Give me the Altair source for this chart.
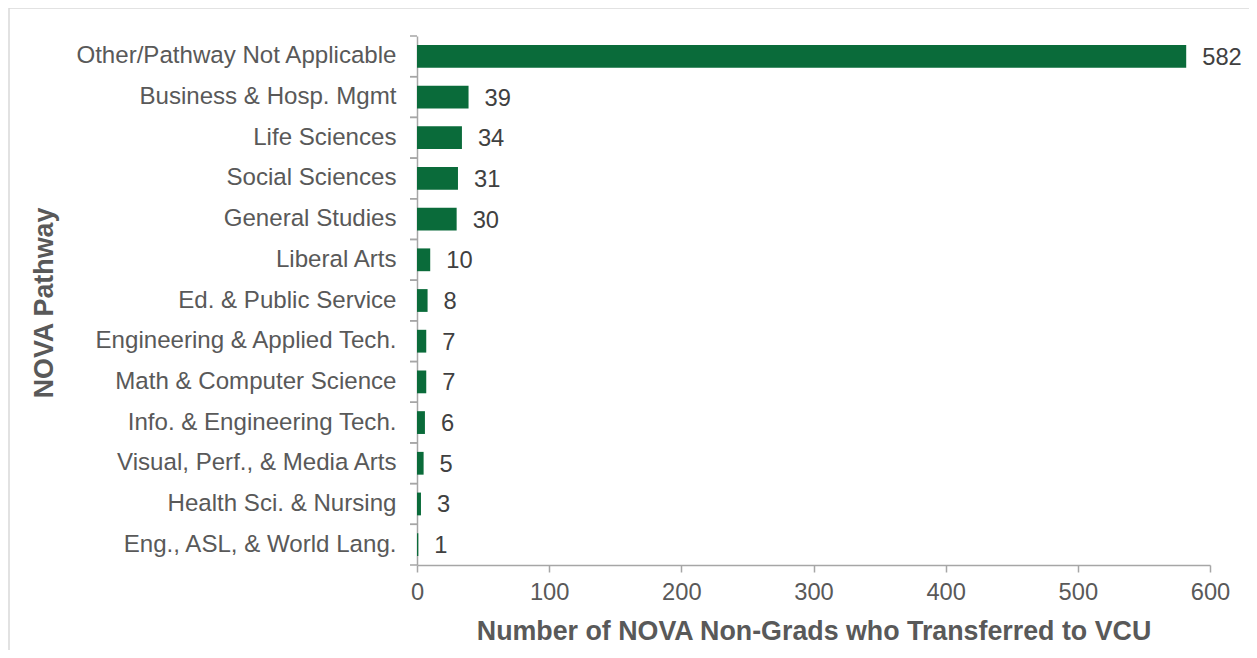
import altair as alt
import pandas as pd

categories = [
    "Other/Pathway Not Applicable",
    "Business & Hosp. Mgmt",
    "Life Sciences",
    "Social Sciences",
    "General Studies",
    "Liberal Arts",
    "Ed. & Public Service",
    "Engineering & Applied Tech.",
    "Math & Computer Science",
    "Info. & Engineering Tech.",
    "Visual, Perf., & Media Arts",
    "Health Sci. & Nursing",
    "Eng., ASL, & World Lang.",
]
values = [582, 39, 34, 31, 30, 10, 8, 7, 7, 6, 5, 3, 1]
x_ticks = [0, 100, 200, 300, 400, 500, 600]

df = pd.DataFrame({"pathway": categories, "count": values})

W, H = 793, 529
FONT = "Liberation Sans"
GREEN = "#0a6b3a"
AXIS_GRAY = "#a6a6a6"
TEXT_GRAY = "#595959"

y_main = alt.Y(
    "pathway:N",
    sort=categories,
    scale=alt.Scale(paddingInner=0.44, paddingOuter=0.22),
    axis=alt.Axis(
        title="NOVA Pathway",
        ticks=False,
        tickSize=0,
        labelPadding=21,
        labelFont=FONT,
        labelFontSize=24.1,
        labelColor=TEXT_GRAY,
        labelLimit=500,
        domainColor=AXIS_GRAY,
        domainWidth=1.5,
        titleFont=FONT,
        titleFontSize=26.8,
        titleFontWeight="bold",
        titleColor=TEXT_GRAY,
        titleX=-373,
        titleY=H / 2 + 2,
        titleAngle=270,
        titleAlign="center",
        titleBaseline="middle",
    ),
)

x_enc = alt.X(
    "count:Q",
    scale=alt.Scale(domain=[0, 600], nice=False),
    axis=alt.Axis(
        title="Number of NOVA Non-Grads who Transferred to VCU",
        values=x_ticks,
        grid=False,
        tickSize=7,
        tickColor=AXIS_GRAY,
        tickWidth=1.5,
        domainColor=AXIS_GRAY,
        domainWidth=1.5,
        labelPadding=8,
        labelFlush=False,
        labelFont=FONT,
        labelFontSize=23.7,
        labelColor=TEXT_GRAY,
        titleFont=FONT,
        titleFontSize=26.8,
        titleFontWeight="bold",
        titleColor=TEXT_GRAY,
        titlePadding=15,
    ),
)

base = alt.Chart(df)

bars = base.mark_bar(color=GREEN).encode(x=x_enc, y=y_main)

labels = base.mark_text(
    align="left", baseline="middle", dx=16, dy=1.5, font=FONT, fontSize=23.7, color="#404040"
).encode(x="count:Q", y=alt.Y("pathway:N", sort=categories), text="count:Q")

main = alt.layer(bars, labels)

tick_scale = alt.Scale(paddingInner=0, paddingOuter=0)
ticks_top = base.mark_rule(color=AXIS_GRAY, strokeWidth=1.5).encode(
    y=alt.Y("pathway:N", sort=categories, scale=tick_scale, bandPosition=0, axis=None),
    x=alt.value(-7),
    x2=alt.value(0),
)
ticks_bottom = base.mark_rule(color=AXIS_GRAY, strokeWidth=1.5).encode(
    y=alt.Y("pathway:N", sort=categories, scale=tick_scale, bandPosition=1, axis=None),
    x=alt.value(-7),
    x2=alt.value(0),
)
ticks = alt.layer(ticks_top, ticks_bottom)

frame = alt.Chart(pd.DataFrame({"k": [0]})).mark_rect(
    fillOpacity=0, stroke="#d9d9d9", strokeWidth=1.5
).encode(
    x=alt.value(-408),
    x2=alt.value(W + 80),
    y=alt.value(-28),
    y2=alt.value(H + 120),
)

chart = (
    alt.layer(frame, main, ticks)
    .resolve_scale(y="independent")
    .properties(
        width=W,
        height=H,
        background="white",
        autosize=alt.AutoSizeParams(type="none"),
        padding={"left": 409, "top": 28, "right": 39, "bottom": 85},
    )
    .configure_view(strokeWidth=0, stroke="transparent")
)

chart.save("out.html", embed_options={"renderer": "svg", "actions": False})
